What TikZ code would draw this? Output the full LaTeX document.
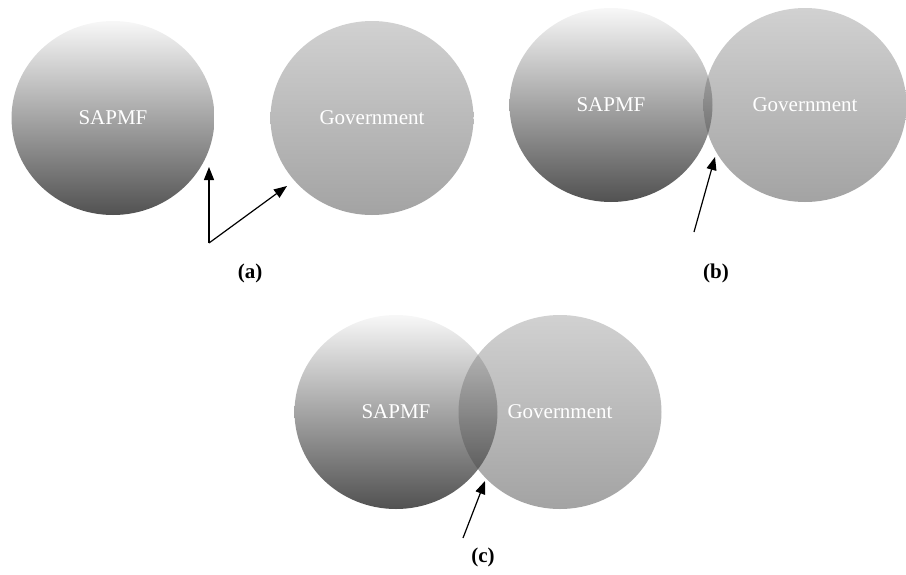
\documentclass[tikz,border=0pt]{standalone}
\usepackage{fontspec}
\setmainfont{Liberation Serif}
\usetikzlibrary{shapes,arrows.meta,positioning}

\tikzset{
    sapmf/.style={ellipse, minimum width=203pt, minimum height=194pt, inner sep=0pt,
        top color=black!3, bottom color=black!68, text=white},
    govt/.style={ellipse, minimum width=203pt, minimum height=194pt, inner sep=0pt,
        top color=black!40, bottom color=black!80, fill opacity=0.45,
        text opacity=1, text=white},
    pointer/.style={-{Triangle[length=13pt,width=10pt]}, line width=1.2pt},
    caption/.style={font=\fontsize{21}{25}\selectfont\bfseries}
}

\begin{document}
\begin{tikzpicture}[x=1pt, y=-1pt, font=\fontsize{21}{25}\selectfont]

    \useasboundingbox (0, 0) rectangle (906, 574);

    % (a) osobno
    \node[sapmf] (sapmfA) at (113, 118) {SAPMF};
    \node[govt] (govA) at (372, 118) {Government};
    \coordinate (baseA) at (209, 243);
    \coordinate (tipA1) at (209, 167);
    \coordinate (tipA2) at (287, 186);
    \draw[pointer] (baseA) -- (tipA1);
    \draw[pointer] (baseA) -- (tipA2);
    \node[caption] (capA) at (250, 273) {(a)};

    % (b) styk
    \node[sapmf] (sapmfB) at (611, 105) {SAPMF};
    \node[govt] (govB) at (805, 105) {Government};
    \coordinate (baseB) at (694, 232);
    \coordinate (tipB) at (715, 157);
    \draw[pointer] (baseB) -- (tipB);
    \node[caption] (capB) at (716, 273) {(b)};

    % (c) czesc wspolna
    \node[sapmf] (sapmfC) at (396, 412) {SAPMF};
    \node[govt] (govC) at (560, 412) {Government};
    \coordinate (baseC) at (463, 538);
    \coordinate (tipC) at (485, 481);
    \draw[pointer] (baseC) -- (tipC);
    \node[caption] (capC) at (483, 557) {(c)};

\end{tikzpicture}
\end{document}
